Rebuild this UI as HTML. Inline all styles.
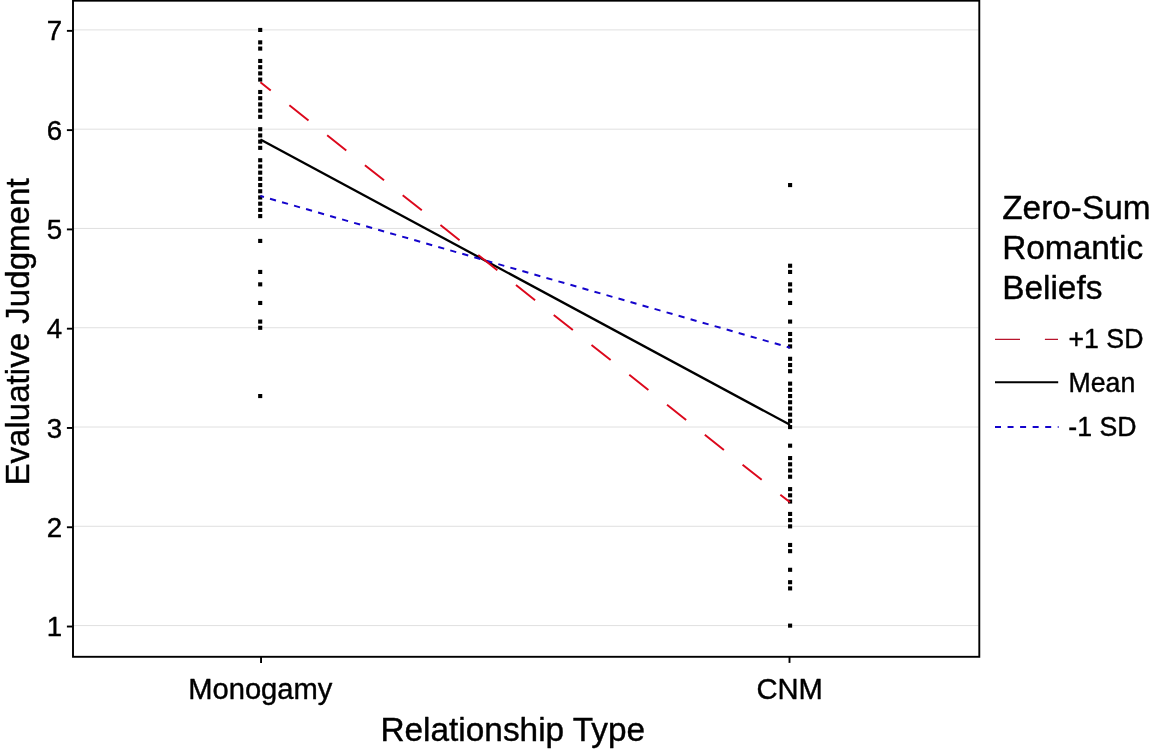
<!DOCTYPE html>
<html lang="en">
<head>
<meta charset="utf-8">
<title>Evaluative Judgment by Relationship Type</title>
<style>
html,body{margin:0;padding:0;background:#fff;}
body{width:1150px;height:752px;overflow:hidden;}
svg{display:block;will-change:transform;}
text{font-family:"Liberation Sans",Arial,Helvetica,sans-serif;fill:#000;stroke:#000;stroke-width:0.4px;stroke-linejoin:round;}
.tick{font-size:29.15px;}
.title{font-size:33.4px;}
.leg{font-size:26.7px;}
</style>
</head>
<body>
<svg width="1150" height="752" viewBox="0 0 1150 752">
<rect x="0" y="0" width="1150" height="752" fill="#ffffff"/>
<g stroke="#dedede" stroke-width="0.95" fill="none">
<line x1="74" x2="978.5" y1="625.58" y2="625.58"/>
<line x1="74" x2="978.5" y1="526.30" y2="526.30"/>
<line x1="74" x2="978.5" y1="427.02" y2="427.02"/>
<line x1="74" x2="978.5" y1="327.74" y2="327.74"/>
<line x1="74" x2="978.5" y1="228.46" y2="228.46"/>
<line x1="74" x2="978.5" y1="129.18" y2="129.18"/>
<line x1="74" x2="978.5" y1="29.90" y2="29.90"/>
</g>
<g fill="#000">
<rect x="258.15" y="27.90" width="4.1" height="4.1"/>
<rect x="258.15" y="40.31" width="4.1" height="4.1"/>
<rect x="258.15" y="46.52" width="4.1" height="4.1"/>
<rect x="258.15" y="58.92" width="4.1" height="4.1"/>
<rect x="258.15" y="65.13" width="4.1" height="4.1"/>
<rect x="258.15" y="71.34" width="4.1" height="4.1"/>
<rect x="258.15" y="77.54" width="4.1" height="4.1"/>
<rect x="258.15" y="89.95" width="4.1" height="4.1"/>
<rect x="258.15" y="96.16" width="4.1" height="4.1"/>
<rect x="258.15" y="102.36" width="4.1" height="4.1"/>
<rect x="258.15" y="108.57" width="4.1" height="4.1"/>
<rect x="258.15" y="114.77" width="4.1" height="4.1"/>
<rect x="258.15" y="127.18" width="4.1" height="4.1"/>
<rect x="258.15" y="133.38" width="4.1" height="4.1"/>
<rect x="258.15" y="139.59" width="4.1" height="4.1"/>
<rect x="258.15" y="145.79" width="4.1" height="4.1"/>
<rect x="258.15" y="158.20" width="4.1" height="4.1"/>
<rect x="258.15" y="164.41" width="4.1" height="4.1"/>
<rect x="258.15" y="170.61" width="4.1" height="4.1"/>
<rect x="258.15" y="176.82" width="4.1" height="4.1"/>
<rect x="258.15" y="183.02" width="4.1" height="4.1"/>
<rect x="258.15" y="189.23" width="4.1" height="4.1"/>
<rect x="258.15" y="195.43" width="4.1" height="4.1"/>
<rect x="258.15" y="201.64" width="4.1" height="4.1"/>
<rect x="258.15" y="207.84" width="4.1" height="4.1"/>
<rect x="258.15" y="214.05" width="4.1" height="4.1"/>
<rect x="258.15" y="238.87" width="4.1" height="4.1"/>
<rect x="258.15" y="269.89" width="4.1" height="4.1"/>
<rect x="258.15" y="282.31" width="4.1" height="4.1"/>
<rect x="258.15" y="300.92" width="4.1" height="4.1"/>
<rect x="258.15" y="319.53" width="4.1" height="4.1"/>
<rect x="258.15" y="325.74" width="4.1" height="4.1"/>
<rect x="258.15" y="394.00" width="4.1" height="4.1"/>
<rect x="788.05" y="183.02" width="4.1" height="4.1"/>
<rect x="788.05" y="263.69" width="4.1" height="4.1"/>
<rect x="788.05" y="269.89" width="4.1" height="4.1"/>
<rect x="788.05" y="282.31" width="4.1" height="4.1"/>
<rect x="788.05" y="288.51" width="4.1" height="4.1"/>
<rect x="788.05" y="300.92" width="4.1" height="4.1"/>
<rect x="788.05" y="319.53" width="4.1" height="4.1"/>
<rect x="788.05" y="331.94" width="4.1" height="4.1"/>
<rect x="788.05" y="338.15" width="4.1" height="4.1"/>
<rect x="788.05" y="344.35" width="4.1" height="4.1"/>
<rect x="788.05" y="356.76" width="4.1" height="4.1"/>
<rect x="788.05" y="362.97" width="4.1" height="4.1"/>
<rect x="788.05" y="369.17" width="4.1" height="4.1"/>
<rect x="788.05" y="381.58" width="4.1" height="4.1"/>
<rect x="788.05" y="387.79" width="4.1" height="4.1"/>
<rect x="788.05" y="394.00" width="4.1" height="4.1"/>
<rect x="788.05" y="400.20" width="4.1" height="4.1"/>
<rect x="788.05" y="406.40" width="4.1" height="4.1"/>
<rect x="788.05" y="412.61" width="4.1" height="4.1"/>
<rect x="788.05" y="418.81" width="4.1" height="4.1"/>
<rect x="788.05" y="425.02" width="4.1" height="4.1"/>
<rect x="788.05" y="443.63" width="4.1" height="4.1"/>
<rect x="788.05" y="456.04" width="4.1" height="4.1"/>
<rect x="788.05" y="462.25" width="4.1" height="4.1"/>
<rect x="788.05" y="468.45" width="4.1" height="4.1"/>
<rect x="788.05" y="474.66" width="4.1" height="4.1"/>
<rect x="788.05" y="487.07" width="4.1" height="4.1"/>
<rect x="788.05" y="493.27" width="4.1" height="4.1"/>
<rect x="788.05" y="499.48" width="4.1" height="4.1"/>
<rect x="788.05" y="511.89" width="4.1" height="4.1"/>
<rect x="788.05" y="518.10" width="4.1" height="4.1"/>
<rect x="788.05" y="524.30" width="4.1" height="4.1"/>
<rect x="788.05" y="542.92" width="4.1" height="4.1"/>
<rect x="788.05" y="549.12" width="4.1" height="4.1"/>
<rect x="788.05" y="567.74" width="4.1" height="4.1"/>
<rect x="788.05" y="580.15" width="4.1" height="4.1"/>
<rect x="788.05" y="586.35" width="4.1" height="4.1"/>
<rect x="788.05" y="623.58" width="4.1" height="4.1"/>
</g>
<line x1="260.4" y1="139.4" x2="790" y2="424.85" stroke="#000" stroke-width="2.3" fill="none"/>
<line x1="260.4" y1="196.0" x2="790" y2="347.7" stroke="#1404cc" stroke-width="2" stroke-dasharray="6.2 6.3" stroke-dashoffset="2.5" fill="none"/>
<line x1="260.4" y1="82.3" x2="790" y2="502.3" stroke="#dc081c" stroke-width="1.95" stroke-dasharray="24.4 23.8" stroke-dashoffset="11.2" fill="none"/>
<rect x="73" y="0.7" width="906.3" height="656.1" fill="none" stroke="#000" stroke-width="1.9"/>
<g stroke="#000" stroke-width="1.9" fill="none">
<line x1="66.9" x2="72.5" y1="626.53" y2="626.53"/>
<line x1="66.9" x2="72.5" y1="527.25" y2="527.25"/>
<line x1="66.9" x2="72.5" y1="427.97" y2="427.97"/>
<line x1="66.9" x2="72.5" y1="328.69" y2="328.69"/>
<line x1="66.9" x2="72.5" y1="229.41" y2="229.41"/>
<line x1="66.9" x2="72.5" y1="130.13" y2="130.13"/>
<line x1="66.9" x2="72.5" y1="30.85" y2="30.85"/>
<line x1="261.05" x2="261.05" y1="657" y2="662.9"/>
<line x1="789.5" x2="789.5" y1="657" y2="662.9"/>
</g>
<g class="tick" text-anchor="end" style="font-size:27.7px">
<text transform="translate(62.20 636.13) scale(1 1.030)">1</text>
<text transform="translate(62.20 536.85) scale(1 1.030)">2</text>
<text transform="translate(62.20 437.57) scale(1 1.030)">3</text>
<text transform="translate(62.20 338.29) scale(1 1.030)">4</text>
<text transform="translate(62.20 239.01) scale(1 1.030)">5</text>
<text transform="translate(62.20 139.73) scale(1 1.030)">6</text>
<text transform="translate(62.20 40.45) scale(1 1.030)">7</text>
</g>
<g class="tick" text-anchor="middle">
<text transform="translate(260.30 698.80) scale(1 1.030)">Monogamy</text>
<text transform="translate(789.70 698.60) scale(1 1.030)">CNM</text>
</g>
<text class="title" text-anchor="middle" transform="translate(512.80 740.80) scale(1 1.022)">Relationship Type</text>
<text class="title" style="font-size:33.1px" text-anchor="middle" transform="translate(28.5 332.0) scale(1.02 1) rotate(-90)">Evaluative Judgment</text>
<g class="title">
<text transform="translate(1002.20 219.00) scale(1 1.022)">Zero-Sum</text>
<text transform="translate(1002.20 259.40) scale(1 1.022)">Romantic</text>
<text transform="translate(1002.20 298.80) scale(1 1.022)">Beliefs</text>
</g>
<line x1="995" x2="1058" y1="339.3" y2="339.3" stroke="#b8142c" stroke-width="1.3" stroke-dasharray="25 24.9"/>
<line x1="995" x2="1058.2" y1="382.3" y2="382.3" stroke="#000" stroke-width="2.1"/>
<line x1="995" x2="1058.6" y1="426.9" y2="426.9" stroke="#1404cc" stroke-width="2" stroke-dasharray="6 6.55"/>
<g class="leg">
<text transform="translate(1068.50 348.30) scale(1 1.022)">+1 SD</text>
<text transform="translate(1068.50 391.70) scale(1 1.022)">Mean</text>
<text transform="translate(1068.30 436.40) scale(1 1.022)">-1 SD</text>
</g>
</svg>
</body>
</html>
